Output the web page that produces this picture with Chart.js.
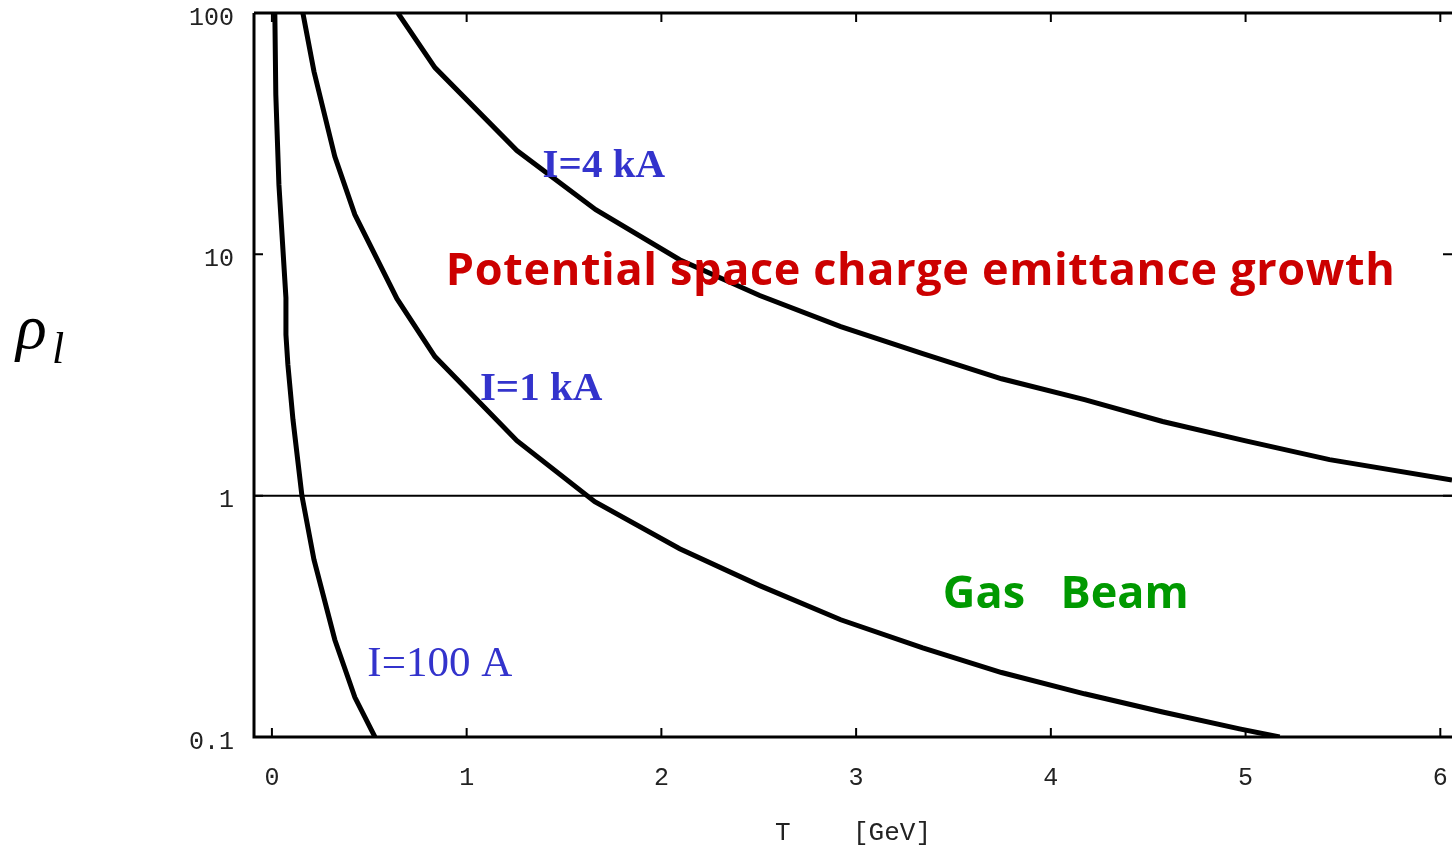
<!DOCTYPE html>
<html>
<head>
<meta charset="utf-8">
<script src="https://cdn.jsdelivr.net/npm/chart.js@4/dist/chart.umd.min.js"></script>
<style>
  html, body { margin: 0; padding: 0; background: #fff; overflow: hidden; }
</style>
</head>
<body>
<canvas id="myChart" width="1452" height="846"></canvas>
<script>
// axis ranges and ticks
const xRange = [-0.092, 6.06];
const yRange = [0.1, 100];
const xTickValues = [0, 1, 2, 3, 4, 5, 6];
const yTickValues = [0.1, 1, 10, 100];
const yTickLabels = ['0.1', '1', '10', '100'];

// I = 100 A
const t100A = [0.015, 0.02, 0.036, 0.072, 0.072, 0.082, 0.108, 0.154, 0.216, 0.323, 0.426, 0.529];
const rho100A = [100, 45.9, 19.4, 6.6, 4.65, 3.49, 2.07, 1.0, 0.543, 0.253, 0.146, 0.1];

// I = 1 kA
const t1kA = [0.159, 0.216, 0.323, 0.426, 0.642, 0.837, 1.258, 1.658, 2.094, 2.505, 2.921, 3.342, 3.747, 4.173, 4.574, 4.969, 5.175];
const rho1kA = [100, 57.2, 25.4, 14.6, 6.55, 3.77, 1.69, 0.945, 0.603, 0.424, 0.306, 0.234, 0.185, 0.151, 0.127, 0.108, 0.1];

// I = 4 kA
const t4kA = [0.647, 0.837, 1.258, 1.663, 2.094, 2.505, 2.921, 3.342, 3.747, 4.173, 4.574, 4.995, 5.431, 6.06];
const rho4kA = [100, 59.4, 26.9, 15.3, 9.5, 6.75, 5.02, 3.88, 3.05, 2.5, 2.03, 1.69, 1.41, 1.16];

// rho = 1 boundary
const limitX = [-0.092, 6.06];
const limitY = [1, 1];

// text labels: [text, x, y (baseline)]
const curveLabels = [
  ['I=4 kA', 1.39, 21.0, 'bold 41px "Liberation Serif"'],
  ['I=1 kA', 1.068, 2.48, 'bold 41px "Liberation Serif"'],
  ['I=100 A', 0.49, 0.1795, '43px "Liberation Serif"']
];
const regionLabels = [
  ['Potential space charge emittance growth', 0.893, 7.49, '#cc0000', 949],
  ['Gas   Beam', 3.445, 0.343, '#009900', 246]
];

const toPoints = (xs, ys) => xs.map((x, i) => ({ x: x, y: ys[i] }));

const curve = (xs, ys, w) => ({
  data: toPoints(xs, ys),
  borderColor: '#000',
  borderWidth: w,
  pointRadius: 0,
  tension: 0,
  fill: false
});

const framePlugin = {
  id: 'frame',
  afterDraw(chart) {
    const ctx = chart.ctx;
    const a = chart.chartArea;
    const xs = chart.scales.x, ys = chart.scales.y;
    ctx.save();
    ctx.strokeStyle = '#000';
    ctx.lineWidth = 3;
    ctx.beginPath();
    ctx.moveTo(a.left, a.top);
    ctx.lineTo(a.right, a.top);
    ctx.moveTo(a.left, a.top);
    ctx.lineTo(a.left, a.bottom);
    ctx.lineTo(a.right, a.bottom);
    ctx.stroke();

    ctx.lineWidth = 2;
    ctx.beginPath();
    xTickValues.forEach(v => {
      const px = xs.getPixelForValue(v);
      ctx.moveTo(px, a.bottom); ctx.lineTo(px, a.bottom - 9);
      ctx.moveTo(px, a.top); ctx.lineTo(px, a.top + 9);
    });
    yTickValues.forEach(v => {
      const py = ys.getPixelForValue(v);
      ctx.moveTo(a.left, py); ctx.lineTo(a.left + 9, py);
      ctx.moveTo(a.right, py); ctx.lineTo(a.right - 9, py);
    });
    ctx.stroke();

    // curve labels
    ctx.fillStyle = '#3333cc';
    ctx.textAlign = 'left';
    ctx.textBaseline = 'alphabetic';
    curveLabels.forEach(([txt, x, y, font]) => {
      ctx.font = font;
      ctx.fillText(txt, xs.getPixelForValue(x), ys.getPixelForValue(y));
    });

    // region labels, sized to the width they take in the original
    regionLabels.forEach(([txt, x, y, color, width]) => {
      ctx.font = 'bold 40px "Comic Sans MS", "Open Sans", sans-serif';
      const w = ctx.measureText(txt).width;
      const size = Math.min(40 * width / w, 45);
      ctx.font = 'bold ' + size.toFixed(1) + 'px "Comic Sans MS", "Open Sans", sans-serif';
      const w2 = ctx.measureText(txt).width;
      ctx.letterSpacing = ((width - w2) / (txt.length - 1)).toFixed(2) + 'px';
      ctx.fillStyle = color;
      ctx.fillText(txt, xs.getPixelForValue(x), ys.getPixelForValue(y));
      ctx.letterSpacing = '0px';
    });

    // y axis title: rho_l
    ctx.fillStyle = '#000';
    ctx.font = 'italic 64px "Liberation Serif"';
    ctx.fillText('\u03c1', 16, 348);
    ctx.font = 'italic 44px "Liberation Serif"';
    ctx.fillText('l', 52, 363);
    ctx.restore();
  }
};

const ctx = document.getElementById('myChart').getContext('2d');

const myChart = new Chart(ctx, {
  type: 'line',
  data: {
    datasets: [
      curve(limitX, limitY, 2),
      curve(t100A, rho100A, 5),
      curve(t1kA, rho1kA, 5),
      curve(t4kA, rho4kA, 5)
    ]
  },
  options: {
    responsive: false,
    animation: false,
    layout: { padding: { top: 13, left: 0, right: 0, bottom: 0 } },
    plugins: {
      legend: { display: false },
      tooltip: { enabled: false }
    },
    scales: {
      x: {
        type: 'linear',
        min: xRange[0],
        max: xRange[1],
        grid: { display: false, drawTicks: false },
        border: { display: false },
        afterBuildTicks: s => { s.ticks = xTickValues.map(v => ({ value: v })); },
        afterFit: s => {
          s.height = 109;
          s.paddingLeft = 0;
          s.paddingRight = 0;
        },
        ticks: {
          padding: 26,
          color: '#222',
          maxRotation: 0,
          autoSkip: false,
          font: { family: 'Liberation Mono', size: 25 }
        },
        title: {
          display: true,
          text: 'T    [GeV]',
          color: '#222',
          padding: { top: 0, bottom: -3 },
          font: { family: 'Liberation Mono', size: 26 }
        }
      },
      y: {
        type: 'logarithmic',
        min: yRange[0],
        max: yRange[1],
        grid: { display: false, drawTicks: false },
        border: { display: false },
        afterBuildTicks: s => { s.ticks = yTickValues.map(v => ({ value: v })); },
        afterFit: s => {
          s.width = 254;
          s.paddingTop = 0;
          s.paddingBottom = 0;
        },
        ticks: {
          padding: 20,
          labelOffset: 5,
          color: '#222',
          autoSkip: false,
          font: { family: 'Liberation Mono', size: 25 },
          callback: (v) => {
            const i = yTickValues.indexOf(v);
            return i >= 0 ? yTickLabels[i] : '';
          }
        }
      }
    }
  },
  plugins: [framePlugin]
});
</script>
</body>
</html>
